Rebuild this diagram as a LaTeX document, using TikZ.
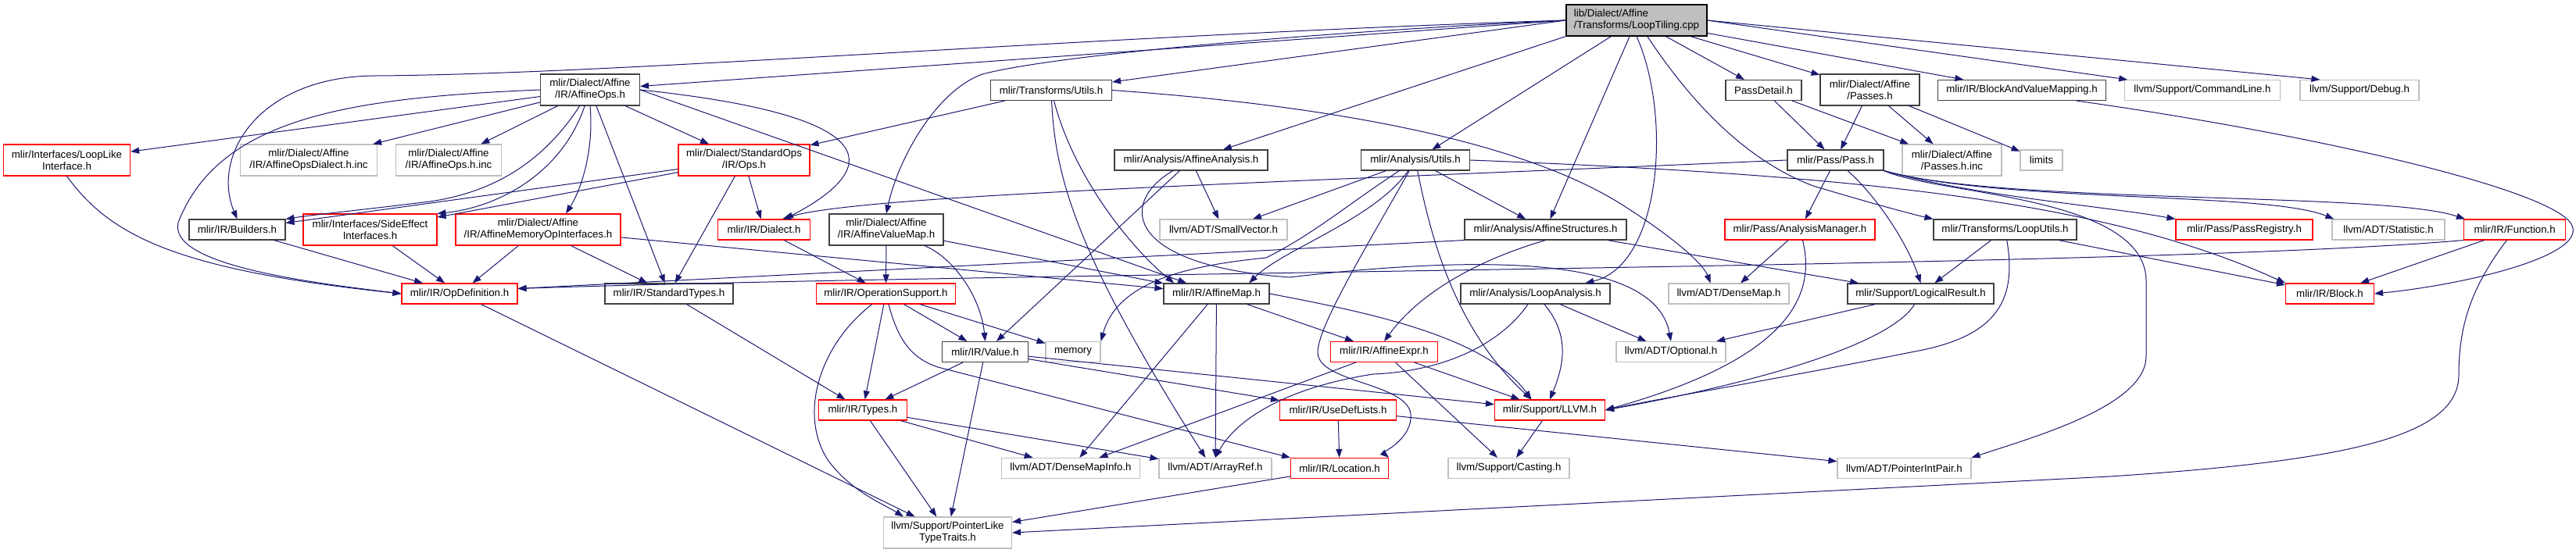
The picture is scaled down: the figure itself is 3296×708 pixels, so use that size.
\documentclass[tikz,border=0pt]{standalone}
\usepackage{fontspec}
\setmainfont{Liberation Sans}
\usetikzlibrary{arrows.meta}
\definecolor{edgec}{HTML}{191970}
\definecolor{grayb}{HTML}{BFBFBF}
\definecolor{blkb}{HTML}{404040}
\definecolor{redb}{HTML}{FF0000}
\begin{document}
\begin{tikzpicture}[x=1pt,y=-1pt,
  base/.style={rectangle, inner sep=0pt, line width=1.1pt, fill=white, text=black, align=center, font=\fontsize{13.3}{15}\selectfont, minimum height=26pt},
  nb/.style={base, draw=blkb, minimum width=#1},
  nr/.style={base, draw=redb, minimum width=#1},
  ng/.style={base, draw=grayb, minimum width=#1},
  tall/.style={minimum height=40pt},
  edg/.style={draw=edgec, line width=1.0pt, -{Triangle[length=11pt,width=8pt]}},
]
\fill[white] (0,0) rectangle (3296,708);
\useasboundingbox (0,0) rectangle (3296,708);

% row 1
\node[nb=180pt, tall, fill=grayb, draw=black, align=left] (LT) at (2094,26) {lib/Dialect/Affine\\/Transforms/LoopTiling.cpp};
% row 2
\node[nb=127pt, tall] (AO) at (755,115) {mlir/Dialect/Affine\\/IR/AffineOps.h};
\node[nb=155pt] (TU) at (1345,115.5) {mlir/Transforms/Utils.h};
\node[nb=97pt] (PD) at (2256.5,115.5) {PassDetail.h};
\node[nb=127pt, tall] (AP) at (2392.5,115) {mlir/Dialect/Affine\\/Passes.h};
\node[nb=215pt] (BVM) at (2587,115.5) {mlir/IR/BlockAndValueMapping.h};
\node[ng=199pt] (CL) at (2818,115.5) {llvm/Support/CommandLine.h};
\node[ng=152pt] (DB) at (3019,115.5) {llvm/Support/Debug.h};
% row 3
\node[nr=162pt, tall] (LL) at (85.5,205) {mlir/Interfaces/LoopLike\\Interface.h};
\node[ng=175pt, tall] (ADI) at (395,205) {mlir/Dialect/Affine\\/IR/AffineOpsDialect.h.inc};
\node[ng=135pt, tall] (AOI) at (574,205) {mlir/Dialect/Affine\\/IR/AffineOps.h.inc};
\node[nr=168pt, tall] (SO) at (952,205) {mlir/Dialect/StandardOps\\/IR/Ops.h};
\node[nb=196pt] (AA) at (1524,205) {mlir/Analysis/AffineAnalysis.h};
\node[nb=139pt] (AU) at (1811,205) {mlir/Analysis/Utils.h};
\node[nb=123pt] (PS) at (2348.5,205) {mlir/Pass/Pass.h};
\node[ng=127pt, tall] (PHI) at (2497.5,205) {mlir/Dialect/Affine\\/Passes.h.inc};
\node[ng=54pt] (LIM) at (2612,205) {limits};
% row 4
\node[nb=123pt] (BU) at (303.5,294) {mlir/IR/Builders.h};
\node[nr=171pt, tall] (SE) at (473.5,294) {mlir/Interfaces/SideEffect\\Interfaces.h};
\node[nr=211pt, tall] (AMO) at (688.5,294) {mlir/Dialect/Affine\\/IR/AffineMemoryOpInterfaces.h};
\node[nr=118pt] (DI) at (977.5,294) {mlir/IR/Dialect.h};
\node[nb=146pt, tall] (AVM) at (1134,294) {mlir/Dialect/Affine\\/IR/AffineValueMap.h};
\node[ng=163pt] (SV) at (1565.5,294) {llvm/ADT/SmallVector.h};
\node[nb=207pt] (AS) at (1977.5,294) {mlir/Analysis/AffineStructures.h};
\node[nr=192pt] (AMG) at (2303,294) {mlir/Pass/AnalysisManager.h};
\node[nb=183pt] (LU) at (2565.5,294) {mlir/Transforms/LoopUtils.h};
\node[nr=175pt] (PR) at (2871.5,294) {mlir/Pass/PassRegistry.h};
\node[ng=144pt] (STAT) at (3056,294) {llvm/ADT/Statistic.h};
\node[nr=130pt] (FN) at (3217.7,294) {mlir/IR/Function.h};
% row 5
\node[nr=148pt] (OD) at (588,376) {mlir/IR/OpDefinition.h};
\node[nb=164pt] (ST) at (856,376) {mlir/IR/StandardTypes.h};
\node[nr=178pt] (OS) at (1133.5,376) {mlir/IR/OperationSupport.h};
\node[nb=135pt] (AM) at (1556.5,376) {mlir/IR/AffineMap.h};
\node[nb=191pt] (LA) at (1964.5,376) {mlir/Analysis/LoopAnalysis.h};
\node[ng=154pt] (DM) at (2212,376) {llvm/ADT/DenseMap.h};
\node[nb=187pt] (LR) at (2457.5,376) {mlir/Support/LogicalResult.h};
\node[nr=113pt] (BL) at (2981,376) {mlir/IR/Block.h};
% row 6
\node[nb=110pt] (V) at (1260.5,450.5) {mlir/IR/Value.h};
\node[ng=70pt] (MEM) at (1373,450.5) {memory};
\node[nr=137pt] (AE) at (1771,450.5) {mlir/IR/AffineExpr.h};
\node[ng=140pt] (OPT) at (2138,450.5) {llvm/ADT/Optional.h};
% row 7
\node[nr=113pt] (TY) at (1104,525) {mlir/IR/Types.h};
\node[nr=149pt] (UD) at (1712,525) {mlir/IR/UseDefLists.h};
\node[nr=141pt] (LLVM) at (1983,525) {mlir/Support/LLVM.h};
% row 8
\node[ng=177pt] (DMI) at (1370,599.5) {llvm/ADT/DenseMapInfo.h};
\node[ng=144pt] (AR) at (1555,599.5) {llvm/ADT/ArrayRef.h};
\node[nr=125pt] (LOC) at (1714,599.5) {mlir/IR/Location.h};
\node[ng=155pt] (CA) at (1930.5,599.5) {llvm/Support/Casting.h};
\node[ng=171pt] (PIP) at (2436.5,599.5) {llvm/ADT/PointerIntPair.h};
% row 9
\node[ng=164pt, tall] (PL) at (1212.5,682) {llvm/Support/PointerLike\\TypeTraits.h};

% ---- edges from LoopTiling.cpp
\draw[edg] (LT.west) -- (AO);
\draw[edg] (LT.west) -- (TU);
\draw[edg] (LT.west) .. controls (1700,40) and (1350,70) .. (1257,95) .. controls (1200,115) and (1150,200) .. (AVM.north);
\draw[edg] (LT.west) .. controls (1400,45) and (800,95) .. (480,97) .. controls (330,98) and (270,200) .. (BU.north);
\draw[edg] (LT.south west) -- (AA);
\draw[edg] (LT) -- (AU);
\draw[edg] (LT) -- (AS);
\draw[edg] (LT.south) .. controls (2140,150) and (2125,340) .. (LA.12);
\draw[edg] (LT) .. controls (2150,110) and (2220,200) .. (2320,238) .. controls (2400,262) and (2450,275) .. (LU.north west);
\draw[edg] (LT) -- (PD);
\draw[edg] (LT) -- (AP);
\draw[edg] (LT) -- (BVM);
\draw[edg] (LT.east) -- (CL);
\draw[edg] (LT.east) -- (DB.165);

% ---- AffineOps.h
\draw[edg] (AO) -- (LL);
\draw[edg] (AO) -- (ADI);
\draw[edg] (AO) -- (AOI);
\draw[edg] (AO) .. controls (700,200) and (640,245) .. (550,258) .. controls (470,268) and (400,275) .. (BU.north east);
\draw[edg] (AO) .. controls (720,220) and (640,265) .. (SE.north east);
\draw[edg] (AO.south) .. controls (760,190) and (745,240) .. (AMO.30);
\draw[edg] (AO) -- (ST);
\draw[edg] (AO) -- (SO);
\draw[edg] (AO.east) .. controls (1150,150) and (1120,220) .. (DI.27);
\draw[edg] (AO.west) .. controls (450,125) and (280,150) .. (228,285) .. controls (215,340) and (400,362) .. (OD.west);
\draw[edg] (AO.east) -- (AM);

% ---- Transforms/Utils.h
\draw[edg] (TU) -- (SO);
\draw[edg] (TU.east) .. controls (1700,135) and (1950,180) .. (2080,265) .. controls (2150,310) and (2180,340) .. (DM.150);
\draw[edg] (TU) .. controls (1350,230) and (1380,330) .. (AR.133);
\draw[edg] (TU) .. controls (1375,230) and (1450,320) .. (AM.166);

% ---- Passes / PassDetail / BlockAndValueMapping
\draw[edg] (PD) -- (PS);
\draw[edg] (PD) -- (PHI);
\draw[edg] (AP) -- (PS);
\draw[edg] (AP) -- (PHI);
\draw[edg] (AP) -- (LIM);
\draw[edg] (BVM.-11) .. controls (2950,170) and (3285,245) .. (3292,292) .. controls (3300,330) and (3150,365) .. (BL.east);

% ---- row 3 sources
\draw[edg] (LL.south) .. controls (140,300) and (220,345) .. (OD.west);
\draw[edg] (SO) -- (BU);
\draw[edg] (SO) -- (SE);
\draw[edg] (SO) -- (DI);
\draw[edg] (SO) -- (ST);
\draw[edg] (AA) -- (V);
\draw[edg] (AA) -- (SV);
\draw[edg] (AA) .. controls (1430,260) and (1440,340) .. (1650,355) .. controls (1950,320) and (2120,340) .. (OPT.north);
\draw[edg] (AU) -- (AS);
\draw[edg] (AU) -- (SV);
\draw[edg] (AU) .. controls (1720,265) and (1680,300) .. (1620,330) .. controls (1520,340) and (1430,360) .. (MEM.north east);
\draw[edg] (AU) .. controls (1760,280) and (1640,320) .. (AM.18);
\draw[edg] (AU) .. controls (1740,330) and (1686,420) .. (1686,451) .. controls (1686,490) and (1800,490) .. (1805,530) .. controls (1808,560) and (1770,580) .. (LOC.north east);
\draw[edg] (AU) .. controls (1830,300) and (1860,420) .. (LLVM.150);
\draw[edg] (AU.east) .. controls (2400,225) and (2700,260) .. (BL.north west);
\draw[edg] (PS.west) .. controls (1600,235) and (1100,250) .. (DI.30);
\draw[edg] (PS) -- (AMG);
\draw[edg] (PS) .. controls (2400,250) and (2440,310) .. (LR.north);
\draw[edg] (PS.south east) .. controls (2520,250) and (2700,265) .. (PR.north west);
\draw[edg] (PS.south east) .. controls (2560,260) and (2900,245) .. (STAT.169);
\draw[edg] (PS.south east) .. controls (2560,262) and (3050,245) .. (FN.168);
\draw[edg] (PS.south east) .. controls (2480,250) and (2746,250) .. (2746,360) -- (2746,456) .. controls (2746,520) and (2600,560) .. (PIP.north east);

% ---- row 4 sources
\draw[edg] (BU) -- (OD);
\draw[edg] (SE) -- (OD);
\draw[edg] (AMO) -- (OD);
\draw[edg] (AMO) -- (ST);
\draw[edg] (AMO) -- (AM);
\draw[edg] (DI) -- (OS);
\draw[edg] (AVM) -- (OS);
\draw[edg] (AVM) .. controls (1220,330) and (1255,380) .. (V.north);
\draw[edg] (AVM) -- (AM);
\draw[edg] (AS.south west) -- (OD.5);
\draw[edg] (AS.south) .. controls (1900,330) and (1820,370) .. (AE.north);
\draw[edg] (AS) -- (LR);
\draw[edg] (AMG) -- (DM);
\draw[edg] (AMG) .. controls (2330,400) and (2250,470) .. (LLVM.east);
\draw[edg] (LU) -- (LR);
\draw[edg] (LU) .. controls (2580,380) and (2560,430) .. (2450,450) .. controls (2250,490) and (2150,505) .. (LLVM.east);
\draw[edg] (LU) -- (BL);
\draw[edg] (FN) -- (BL);
\draw[edg] (FN.south west) .. controls (2750,343) and (1300,348) .. (OD.5);
\draw[edg] (FN) .. controls (3160,370) and (3146,420) .. (3146,480) .. controls (3146,560) and (3000,590) .. (2700,610) -- (PL.east);

% ---- row 5 sources
\draw[edg] (OD) -- (PL);
\draw[edg] (ST) -- (TY);
\draw[edg] (OS) -- (V);
\draw[edg] (OS) -- (MEM);
\draw[edg] (OS) -- (TY);
\draw[edg] (OS) .. controls (1150,440) and (1170,460) .. (1200,470) -- (LOC.north west);
\draw[edg] (OS) .. controls (1050,440) and (1020,530) .. (1060,590) .. controls (1090,630) and (1130,645) .. (PL.160);
\draw[edg] (AM) -- (AE);
\draw[edg] (AM.east) .. controls (1750,400) and (1900,430) .. (LLVM.150);
\draw[edg] (AM) -- (AR);
\draw[edg] (AM) -- (DMI);
\draw[edg] (LA) .. controls (1920,440) and (1850,475) .. (1757,479) .. controls (1640,497) and (1580,540) .. (AR.north);
\draw[edg] (LA) .. controls (2010,430) and (2000,470) .. (LLVM.north);
\draw[edg] (LA) -- (OPT);
\draw[edg] (LR) -- (OPT);
\draw[edg] (LR) .. controls (2420,440) and (2250,490) .. (LLVM.east);

% ---- lower rows
\draw[edg] (V) -- (TY);
\draw[edg] (V) -- (UD);
\draw[edg] (V) -- (PL);
\draw[edg] (V) -- (LLVM);
\draw[edg] (AE) -- (LLVM);
\draw[edg] (AE) -- (CA);
\draw[edg] (AE) -- (DMI);
\draw[edg] (TY) -- (DMI);
\draw[edg] (TY) -- (AR);
\draw[edg] (TY) -- (PL);
\draw[edg] (UD) -- (LOC);
\draw[edg] (UD) -- (PIP);
\draw[edg] (LLVM) -- (CA);
\draw[edg] (LOC) -- (PL);
\end{tikzpicture}
\end{document}
